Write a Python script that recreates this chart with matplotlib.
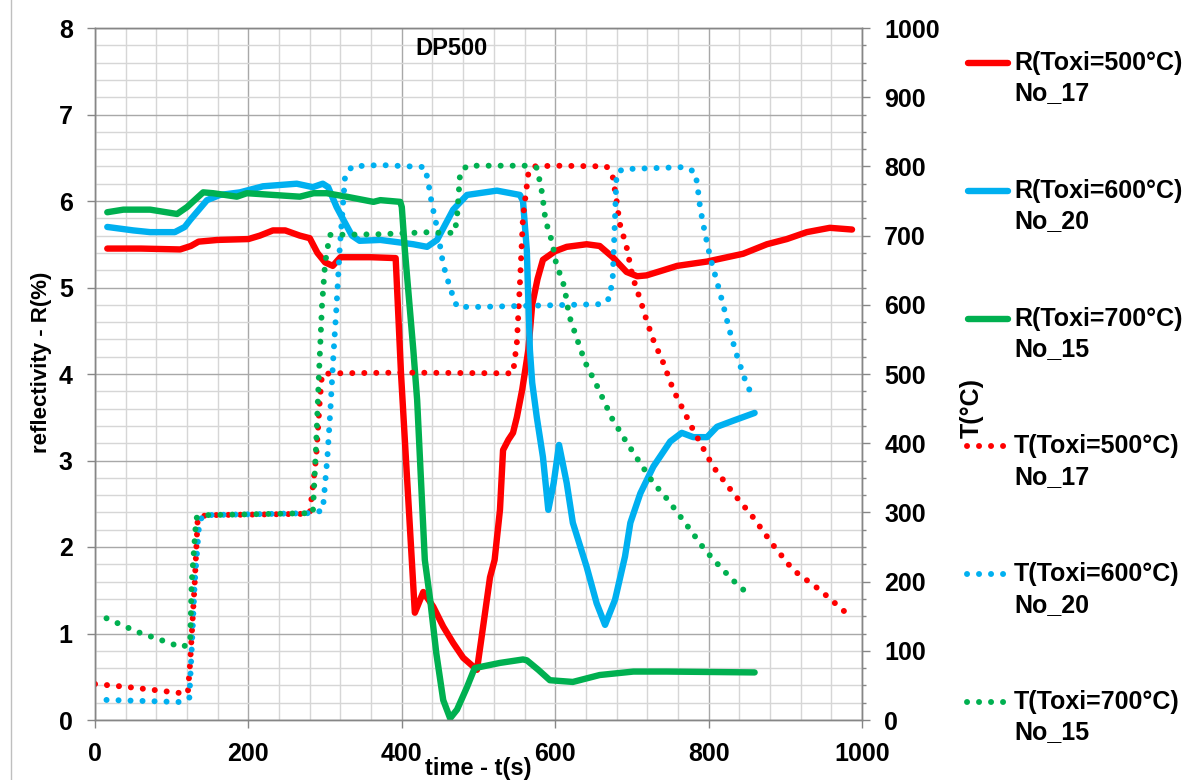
import matplotlib
matplotlib.use('Agg')
import matplotlib.pyplot as plt
from matplotlib.ticker import MultipleLocator
from matplotlib.lines import Line2D

plt.rcParams['font.family'] = ['Liberation Sans', 'DejaVu Sans']
plt.rcParams['font.weight'] = 'bold'

# ---------------- data ----------------
# Reflectivity (left axis, %)
t_R500 = [16, 60, 111, 125, 135, 160, 200, 215, 232, 248, 267, 280, 290, 300, 310, 320, 360, 392,
          399, 417, 428, 441, 454, 467, 480, 498, 506, 515, 521, 528, 532, 539, 545, 550, 557, 565,
          570, 577, 584, 600, 615, 641, 658, 675, 693, 707, 719, 741, 759, 798, 845, 876, 902, 928,
          958, 987]
R_R500 = [5.45, 5.45, 5.44, 5.48, 5.53, 5.55, 5.56, 5.60, 5.66, 5.66, 5.60, 5.57, 5.40, 5.29, 5.25,
          5.35, 5.35, 5.34, 4.00, 1.24, 1.48, 1.31, 1.08, 0.89, 0.72, 0.58, 1.08, 1.65, 1.85, 2.43,
          3.12, 3.24, 3.32, 3.50, 3.82, 4.28, 4.80, 5.10, 5.32, 5.42, 5.47, 5.50, 5.48, 5.35, 5.18,
          5.13, 5.14, 5.20, 5.25, 5.30, 5.39, 5.50, 5.56, 5.64, 5.69, 5.67]

t_R600 = [16, 50, 72, 104, 117, 124, 146, 163, 189, 219, 263, 284, 297, 304, 315, 324, 335, 345,
          372, 415, 433, 446, 467, 485, 524, 554, 558, 563, 567, 570, 576, 584, 591, 598, 605, 615,
          623, 641, 654, 665, 678, 691, 698, 711, 728, 750, 765, 780, 798, 811, 832, 860]
R_R600 = [5.70, 5.66, 5.64, 5.64, 5.70, 5.78, 6.01, 6.07, 6.10, 6.17, 6.20, 6.16, 6.20, 6.16, 5.93,
          5.78, 5.60, 5.54, 5.55, 5.50, 5.47, 5.55, 5.90, 6.07, 6.12, 6.07, 6.00, 5.43, 4.28, 3.90,
          3.50, 3.04, 2.43, 2.74, 3.18, 2.74, 2.28, 1.77, 1.35, 1.10, 1.39, 1.89, 2.28, 2.62, 2.93,
          3.22, 3.32, 3.27, 3.27, 3.39, 3.46, 3.55]

t_R700 = [16, 37, 72, 107, 120, 141, 154, 185, 198, 267, 285, 302, 328, 363, 372, 398, 400, 404,
          415, 420, 430, 437, 445, 454, 463, 472, 485, 495, 528, 558, 563, 578, 593, 623, 658, 702,
          745, 860]
R_R700 = [5.87, 5.90, 5.90, 5.85, 5.93, 6.10, 6.09, 6.05, 6.09, 6.05, 6.09, 6.09, 6.05, 5.99, 6.01,
          5.99, 5.93, 5.43, 4.28, 3.70, 1.85, 1.39, 0.77, 0.23, 0.02, 0.12, 0.38, 0.60, 0.66, 0.70,
          0.69, 0.58, 0.46, 0.44, 0.52, 0.56, 0.56, 0.55]

# Temperature (right axis, degC)
t_T500 = [0, 40, 80, 111, 121, 124, 130, 134, 146, 280, 287, 289, 293, 296, 310, 400, 541, 545,
          550, 554, 558, 565, 571, 600, 667, 675, 680, 684, 693, 701, 711, 719, 728, 741, 754, 780,
          806, 832, 858, 884, 910, 945, 978]
T_T500 = [52, 48, 43, 39, 39, 82, 198, 293, 296, 298, 366, 390, 460, 500, 501, 502, 501, 501,
          545, 631, 727, 790, 800, 801, 800, 785, 751, 718, 684, 640, 607, 578, 549, 516, 477, 419,
          366, 328, 293, 253, 217, 188, 156]

t_T600 = [15, 111, 123, 126, 130, 136, 141, 284, 297, 303, 307, 311, 315, 319, 323, 326, 335, 372,
          430, 434, 439, 446, 454, 463, 472, 502, 662, 671, 675, 678, 680, 688, 769, 782, 785, 789,
          795, 802, 811, 819, 827, 836, 846, 859]
T_T600 = [29, 26, 32, 101, 198, 286, 296, 299, 303, 380, 450, 530, 600, 680, 740, 785, 800, 802,
          799, 780, 747, 711, 658, 624, 597, 597, 601, 610, 640, 727, 790, 796, 799, 792, 776, 740,
          705, 669, 633, 600, 564, 530, 496, 462]

t_T700 = [15, 56, 85, 113, 124, 126, 132, 141, 284, 288, 292, 296, 300, 306, 372, 437, 450, 469,
          472, 476, 485, 563, 576, 580, 583, 587, 591, 596, 602, 609, 613, 618, 628, 639, 654, 674,
          691, 708, 727, 747, 776, 795, 817, 838, 851]
T_T700 = [147, 127, 116, 105, 111, 198, 292, 296, 299, 390, 500, 600, 660, 701, 702, 705, 704, 704,
          727, 790, 801, 801, 798, 778, 761, 725, 708, 691, 655, 638, 619, 585, 552, 517, 484, 436,
          405, 376, 344, 318, 275, 246, 219, 195, 183]

labels = ["R(Toxi=500°C)\nNo_17", "R(Toxi=600°C)\nNo_20", "R(Toxi=700°C)\nNo_15",
          "T(Toxi=500°C)\nNo_17", "T(Toxi=600°C)\nNo_20", "T(Toxi=700°C)\nNo_15"]

# ---------------- style ----------------
RED, BLUE, GREEN = '#FF0000', '#00B0F0', '#00B050'
W, H = 1189, 780
solid_kw = dict(lw=4.6, solid_capstyle='round', solid_joinstyle='round')
dot_kw = dict(lw=4.3, linestyle=(0, (0.01, 2.0)), dash_capstyle='round')
AXC = '#868686'

fig = plt.figure(figsize=(W / 100, H / 100), dpi=100)
ax = fig.add_axes([95 / W, 60 / H, 767 / W, 692 / H])
ax2 = ax.twinx()

ax.plot(t_R500, R_R500, color=RED, **solid_kw)
ax.plot(t_R600, R_R600, color=BLUE, **solid_kw)
ax.plot(t_R700, R_R700, color=GREEN, **solid_kw)
ax2.plot(t_T500, T_T500, color=RED, **dot_kw)
ax2.plot(t_T600, T_T600, color=BLUE, **dot_kw)
ax2.plot(t_T700, T_T700, color=GREEN, **dot_kw)

ax.set_xlim(0, 1000)
ax.set_ylim(0, 8)
ax2.set_ylim(0, 1000)

ax.xaxis.set_major_locator(MultipleLocator(200))
ax.xaxis.set_minor_locator(MultipleLocator(40))
ax.yaxis.set_major_locator(MultipleLocator(1))
ax.yaxis.set_minor_locator(MultipleLocator(0.2))
ax2.yaxis.set_major_locator(MultipleLocator(100))
ax2.yaxis.set_minor_locator(MultipleLocator(25))

ax.set_axisbelow(True)
ax.grid(which='minor', color='#D6D6D6', lw=1.0)
ax.grid(which='major', color='#A8A8A8', lw=1.0)

ax.tick_params(which='minor', length=0)
ax.tick_params(which='major', length=6, width=1, color=AXC, labelsize=18, pad=10)
ax2.tick_params(which='major', length=6, width=1, color=AXC, labelsize=18, pad=10)
ax2.tick_params(which='minor', length=3, width=1, color=AXC)
for a in (ax, ax2):
    for s in a.spines.values():
        s.set_color(AXC)
        s.set_linewidth(1.0)
for lab in ax.get_xticklabels() + ax.get_yticklabels() + ax2.get_yticklabels():
    lab.set_fontweight('bold')

ax.set_xlabel('time - t(s)', fontsize=17, fontweight='bold')
ax.xaxis.set_label_coords(0.5, -0.053)
ax.xaxis.label.set_va('top')

ax.set_ylabel('reflectivity - R(%)', fontsize=16, fontweight='bold')
ax.yaxis.set_label_coords((42 - 95) / 767, 0.517)
ax.yaxis.label.set_va('center')
ax.yaxis.label.set_ha('center')

ax2.set_ylabel('T(°C)', fontsize=18, fontweight='bold')
ax2.yaxis.set_label_coords((972 - 95) / 767, (720 - 408) / 692)
ax2.yaxis.label.set_va('center')
ax2.yaxis.label.set_ha('center')

ax.text(0.465, 0.971, 'DP500', transform=ax.transAxes, ha='center', va='center',
        fontsize=17, fontweight='bold')

# ---------------- legend (manual, Excel-like) ----------------
colors = [RED, BLUE, GREEN, RED, BLUE, GREEN]
for i, (lab, col) in enumerate(zip(labels, colors)):
    y = 63 + i * 127.8
    yf = 1 - y / H
    if i < 3:
        ln = Line2D([968 / W, 1008 / W], [yf, yf], color=col, transform=fig.transFigure, **solid_kw)
    else:
        ln = Line2D([966.5 / W, 1006 / W], [yf, yf], color=col, transform=fig.transFigure, **dot_kw)
    fig.add_artist(ln)
    first, second = lab.split('\n')
    fig.text(1014 / W, yf, first, ha='left', va='center', fontsize=18, fontweight='bold')
    fig.text(1014 / W, 1 - (y + 30.5) / H, second, ha='left', va='center', fontsize=18,
             fontweight='bold')

# chart-area border at left edge
fig.add_artist(Line2D([10.5 / W, 10.5 / W], [0, 1], color='#BFBFBF', lw=1,
                      transform=fig.transFigure))

fig.savefig('out.png', dpi=100)
